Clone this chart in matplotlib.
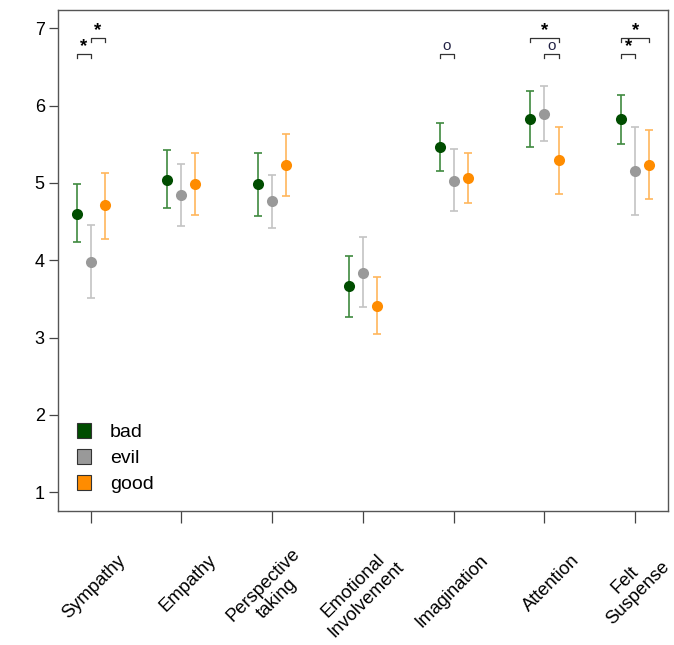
import matplotlib
matplotlib.use("Agg")
import matplotlib.pyplot as plt
from matplotlib.transforms import ScaledTranslation
from matplotlib.patches import Patch
import numpy as np

plt.rcParams['font.family'] = ['Liberation Sans', 'DejaVu Sans']

categories = ["Sympathy", "Empathy", "Perspective\ntaking", "Emotional\nInvolvement",
              "Imagination", "Attention", "Felt\nSuspense"]
groups = ["bad", "evil", "good"]

bad_mean = [4.60, 5.04, 4.98, 3.67, 5.47, 5.82, 5.82]
bad_lo = [4.23, 4.67, 4.57, 3.27, 5.15, 5.46, 5.50]
bad_hi = [4.99, 5.43, 5.39, 4.06, 5.78, 6.19, 6.14]

evil_mean = [3.98, 4.84, 4.76, 3.84, 5.03, 5.89, 5.15]
evil_lo = [3.51, 4.44, 4.42, 3.39, 4.64, 5.54, 4.59]
evil_hi = [4.46, 5.24, 5.10, 4.30, 5.44, 6.25, 5.72]

good_mean = [4.72, 4.99, 5.23, 3.41, 5.06, 5.29, 5.23]
good_lo = [4.28, 4.59, 4.83, 3.05, 4.74, 4.86, 4.79]
good_hi = [5.13, 5.39, 5.63, 3.78, 5.39, 5.72, 5.69]

# significance annotations: (category index, group a, group b, level, symbol)
sig_cat = [0, 0, 4, 5, 5, 6, 6]
sig_a = [0, 1, 0, 0, 1, 0, 0]
sig_b = [1, 2, 1, 2, 2, 2, 1]
sig_level = [0, 1, 0, 1, 0, 1, 0]
sig_sym = ["*", "*", "o", "*", "o", "*", "*"]

yticks = [1, 2, 3, 4, 5, 6, 7]

point_colors = ["#004d00", "#999999", "#ff8c00"]
bar_colors = ["#3f8a3f", "#c4c4c4", "#ffb65c"]
offsets = [-0.155, 0.0, 0.155]

fig = plt.figure(figsize=(6.74, 6.45), dpi=100)
ax = fig.add_axes([0.086, 0.208, 0.905, 0.777])

x = np.arange(1, len(categories) + 1)
data = [(bad_mean, bad_lo, bad_hi), (evil_mean, evil_lo, evil_hi), (good_mean, good_lo, good_hi)]
for g, (m, lo, hi) in enumerate(data):
    m = np.array(m); lo = np.array(lo); hi = np.array(hi)
    xx = x + offsets[g]
    ax.errorbar(xx, m, yerr=[m - lo, hi - m], fmt='none', ecolor=bar_colors[g],
                elinewidth=1.2, capsize=2.6, capthick=1.2, zorder=2)
    ax.plot(xx, m, 'o', color=point_colors[g], markersize=8, markeredgewidth=0, zorder=3)

lev_y = [6.67, 6.88]
drop = 0.06
for c, a, b, lv, s in zip(sig_cat, sig_a, sig_b, sig_level, sig_sym):
    x0 = c + 1 + offsets[a]
    x1 = c + 1 + offsets[b]
    y = lev_y[lv]
    ax.plot([x0, x0, x1, x1], [y - drop, y, y, y - drop], color="#333333", lw=0.9, zorder=2)
    if s == "*":
        ax.text((x0 + x1) / 2, y - 0.02, "*", ha='center', va='bottom', fontsize=13.5,
                fontweight='bold', color="black")
    else:
        ax.text((x0 + x1) / 2, y + 0.005, "o", ha='center', va='bottom', fontsize=11,
                color="#222244")

ax.set_xlim(0.64, 7.36)
ax.set_ylim(0.76, 7.24)
ax.set_yticks(yticks)
ax.set_yticklabels([str(v) for v in yticks], fontsize=13)
ax.set_xticks(x)
ax.set_xticklabels([""] * len(categories))
lab_tr = ax.get_xaxis_transform() + ScaledTranslation(0.32, -0.47, fig.dpi_scale_trans)
labels = []
for xi, cat in zip(x, categories):
    t = ax.text(xi, 0, cat, transform=lab_tr, rotation=45, ha='right', va='center',
                rotation_mode='anchor', multialignment='center', fontsize=13.2, linespacing=1.15)
    labels.append(t)
ax.tick_params(axis='y', direction='out', length=6.5, width=0.9, color="#444444", pad=3)
ax.tick_params(axis='x', direction='out', length=8.6, width=0.9, color="#444444")
for sp in ax.spines.values():
    sp.set_color("#555555")
    sp.set_linewidth(1.0)

handles = [Patch(facecolor=point_colors[i], edgecolor="#333333", linewidth=0.8) for i in range(3)]
ax.legend(handles, groups, loc='lower left', bbox_to_anchor=(0.002, 0.0), frameon=False,
          fontsize=14, handlelength=0.75, handleheight=0.75, handletextpad=0.95, labelspacing=0.42)

# keep rotated labels inside the figure
renderer = fig.canvas.get_renderer()
fig_w = fig.bbox.width
for t in labels:
    bb = t.get_window_extent(renderer)
    over = bb.x1 - (fig_w - 1)
    if over > 0:
        t.set_transform(t.get_transform() + ScaledTranslation(-over / fig.dpi, 0, fig.dpi_scale_trans))

fig.savefig("out.png", dpi=100)
